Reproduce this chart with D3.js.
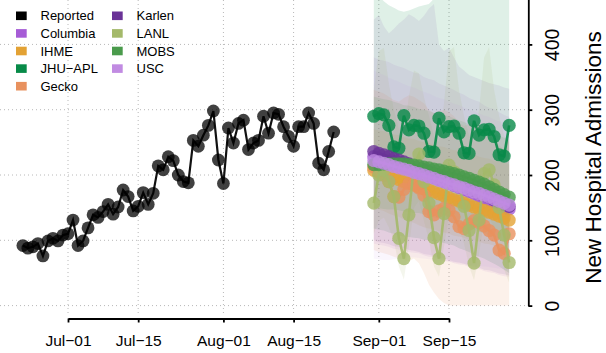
<!DOCTYPE html>
<html><head><meta charset="utf-8">
<script src="https://cdn.jsdelivr.net/npm/d3@7"></script>
<style>
html,body{margin:0;padding:0;background:#fff;}
svg{display:block;font-family:"Liberation Sans",Arial,sans-serif;}
</style></head>
<body>
<svg id="chart" width="606" height="353"></svg>
<script>
// ---------------- DATA ----------------
const reportedStart = "2021-06-22";
const reportedEnd = "2021-08-23";
const reported = [92,88,90,95,76,99,103,99,108,110,131,92,99,119,139,135,144,155,140,151,177,167,145,152,173,155,172,214,208,228,222,200,190,188,253,244,261,276,298,223,187,272,249,279,284,239,249,253,290,264,295,293,274,259,244,274,274,295,279,218,208,236,266];

const forecastStart = "2021-08-31";
const forecastEnd = "2021-09-27";

const models = ["Columbia","IHME","JHU-APL","Gecko","Karlen","LANL","MOBS","USC"];
const legendLabels = ["Reported","Columbia","IHME","JHU\u2212APL","Gecko","Karlen","LANL","MOBS","USC"];
const legendColors = ["#000000","#a65cd6","#e3a234","#078a48","#e8915e","#6a3397","#a4b96a","#4a9b4c","#c18be2"];
const bandOpacity = [0.09,0.11,0.13,0.13,0.09,0.12,0.13,0.08];

const columbia = [228,225,223,221,218,215,212,210,207,204,201,199,196,193,190,187,184,181,178,175,172,168,165,162,159,155,152,148];
const ihme     = [207,204,202,199,196,193,190,188,185,182,179,177,174,171,168,165,162,160,157,154,151,148,146,143,140,137,134,131];
const jhuapl   = [290,294,292,276,243,241,291,269,276,275,264,236,235,287,266,274,275,264,234,233,283,261,269,270,259,231,229,276];
const gecko    = [212,208,200,190,167,166,178,187,185,180,169,144,139,145,149,146,136,121,118,125,130,127,122,115,108,85,80,110];
const karlen   = [236,233,231,228,225,223,220,217,214,211,208,205,202,199,196,193,190,186,183,180,176,173,169,166,162,159,155,152];
const lanl     = [157,200,207,190,167,103,72,139,215,232,190,157,104,72,141,215,205,185,152,115,65,131,202,208,185,150,108,66];
const mobs     = [216,216,217,217,217,217,217,216,215,214,212,211,209,208,206,204,202,200,197,195,192,189,186,182,178,174,170,166];
const usc      = [222,220,218,216,213,211,209,207,204,202,200,197,195,192,190,187,185,182,180,177,174,172,169,166,163,160,157,154];

// uncertainty bands (lower / upper)
const columbiaLo = [95,93,92,90,87,86,85,82,81,80,77,75,74,71,69,68,65,63,62,59,57,56,53,51,50,47,45,44];
const columbiaHi = [380,377,375,373,369,366,364,360,357,355,350,347,345,340,337,334,330,326,323,318,315,312,307,303,301,296,292,289];
const ihmeLo     = [150,147,145,141,138,136,132,129,127,123,120,118,117,114,112,110,107,106,104,101,100,98,95,94,92,90,87,86];
const ihmeHi     = [270,268,267,264,262,261,258,256,255,252,250,249,246,244,243,240,238,237,234,232,231,228,226,225,222,220,219,216];
const jhuaplLo   = [118,116,115,112,110,107,106,105,104,103,101,100,99,98,96,94,92,88,85,82,78,75,72,68,64,60,55,50];
const jhuaplHi   = [478,474,466,460,456,452,450,452,455,458,460,462,470,495,505,510,515,520,520,525,525,525,530,530,530,530,530,530];
const geckoLo    = [85,82,80,78,75,72,70,68,72,65,50,32,20,10,4,0,0,0,0,0,0,0,0,0,0,0,0,0];
const geckoHi    = [330,328,325,320,315,312,318,322,320,315,310,300,295,298,300,296,290,280,275,278,280,276,270,262,255,245,240,255];
const karlenLo   = [100,97,96,94,91,90,88,85,84,82,79,78,76,73,72,70,67,66,64,61,60,58,55,54,52,49,48,46];
const karlenHi   = [438,445,428,417,424,432,438,446,442,436,444,455,462,400,390,395,380,366,360,353,350,347,344,341,339,337,334,332];
const lanlLo     = [110,130,135,120,100,60,40,90,150,160,130,100,60,44,90,140,135,120,95,60,39,80,130,135,120,90,55,35];
const lanlHi     = [330,390,395,340,300,270,260,320,360,356,320,290,260,250,310,390,396,330,290,260,250,300,380,396,330,290,260,250];
const mobsLo     = [150,149,148,147,147,146,144,144,142,142,140,138,135,134,132,130,127,125,122,120,117,113,111,108,105,102,99,96];
const mobsHi     = [320,318,316,315,312,310,307,306,304,301,300,298,295,294,292,290,287,284,281,278,275,272,269,266,263,260,257,254];
const uscLo      = [72,71,70,70,71,72,73,74,74,73,72,71,70,69,68,67,66,65,64,63,62,61,60,59,58,57,56,55];
const uscHi      = [360,356,353,349,346,343,339,336,334,330,327,325,321,318,316,312,309,307,303,300,298,294,291,289,285,282,280,276];

const xTickDates  = ["2021-07-01","2021-07-15","2021-08-01","2021-08-15","2021-09-01","2021-09-15"];
const xTickLabels = ["Jul\u221201","Jul\u221215","Aug\u221201","Aug\u221215","Sep\u221201","Sep\u221215"];
const yTicks = [0,100,200,300,400];
const yTitle = "New Hospital Admissions";

// ---------------- CHART ----------------
const svg = d3.select("#chart");
const parse = d3.utcParse("%Y-%m-%d");
const rDates = d3.utcDay.range(parse(reportedStart), d3.utcDay.offset(parse(reportedEnd),1));
const fDates = d3.utcDay.range(parse(forecastStart), d3.utcDay.offset(parse(forecastEnd),1));

const x = d3.scaleUtc().domain([parse("2021-07-01"), parse("2021-09-15")]).range([68, 449]);
const y = d3.scaleLinear().domain([0, 470]).range([305.6, -1.3]);

const series = {
  "Columbia": {v: columbia, lo: columbiaLo, hi: columbiaHi, c: legendColors[1]},
  "IHME":     {v: ihme, lo: ihmeLo, hi: ihmeHi, c: legendColors[2]},
  "JHU-APL":  {v: jhuapl, lo: jhuaplLo, hi: jhuaplHi, c: legendColors[3]},
  "Gecko":    {v: gecko, lo: geckoLo, hi: geckoHi, c: legendColors[4]},
  "Karlen":   {v: karlen, lo: karlenLo, hi: karlenHi, c: legendColors[5]},
  "LANL":     {v: lanl, lo: lanlLo, hi: lanlHi, c: legendColors[6]},
  "MOBS":     {v: mobs, lo: mobsLo, hi: mobsHi, c: legendColors[7]},
  "USC":      {v: usc, lo: uscLo, hi: uscHi, c: legendColors[8]}
};

// grid
const grid = svg.append("g").attr("stroke","#b8b8b8").attr("stroke-width",1).attr("stroke-dasharray","1,3");
yTicks.forEach(t => grid.append("line").attr("x1",0).attr("x2",526).attr("y1",y(t)).attr("y2",y(t)));
xTickDates.forEach(d => grid.append("line").attr("x1",x(parse(d))).attr("x2",x(parse(d))).attr("y1",0).attr("y2",314));

// bands
const area = d3.area().x((d,i)=>x(fDates[i])).y0(d=>y(d[0])).y1(d=>y(d[1]));
const bandG = svg.append("g");
models.forEach((m,k) => {
  const s = series[m];
  const pts = s.lo.map((l,i)=>[l, s.hi[i]]);
  bandG.append("path").attr("d", area(pts)).attr("fill", s.c).attr("fill-opacity", bandOpacity[k]);
});

// reported
const line = d3.line().x((d,i)=>x(rDates[i])).y(d=>y(d));
svg.append("path").attr("d", line(reported)).attr("fill","none").attr("stroke","#111").attr("stroke-width",2.2);
svg.append("g").selectAll("circle").data(reported).join("circle")
  .attr("cx",(d,i)=>x(rDates[i])).attr("cy",d=>y(d)).attr("r",6.4)
  .attr("fill","#000").attr("fill-opacity",0.75);

// forecasts
const fline = d3.line().x((d,i)=>x(fDates[i])).y(d=>y(d));
models.forEach(m => {
  const s = series[m];
  const g = svg.append("g");
  g.append("path").attr("d", fline(s.v)).attr("fill","none").attr("stroke", s.c).attr("stroke-width",2.6).attr("stroke-opacity",0.9);
  g.selectAll("circle").data(s.v).join("circle")
    .attr("cx",(d,i)=>x(fDates[i])).attr("cy",d=>y(d)).attr("r",6.6)
    .attr("fill", s.c).attr("fill-opacity",0.8);
});

// x axis
const xAxis = svg.append("g").attr("transform","translate(0,318.5)")
  .call(d3.axisBottom(x).tickValues(xTickDates.map(parse)).tickSize(4).tickSizeOuter(0)
        .tickFormat((d,i)=>xTickLabels[i]).tickPadding(12));
xAxis.select(".domain").attr("stroke","#000").attr("stroke-width",1.8);
xAxis.selectAll(".tick line").attr("stroke","#000").attr("stroke-width",1.8);
xAxis.selectAll("text").attr("font-size","15.5px").attr("fill","#000").attr("font-family","Liberation Sans, Arial, sans-serif");

// y axis (right)
const yAxis = svg.append("g").attr("transform","translate(528.3,0)")
  .call(d3.axisRight(y).tickValues(yTicks).tickSize(4).tickSizeOuter(0));
yAxis.select(".domain").attr("stroke","#000").attr("stroke-width",1.8);
yAxis.selectAll(".tick line").attr("stroke","#000").attr("stroke-width",1.8);
yAxis.selectAll("text").attr("x",null).attr("dy",null).attr("text-anchor","middle")
  .attr("transform","translate(23.4,0) rotate(-90)").attr("dy","0.36em")
  .attr("font-size","19.5px").attr("fill","#000").attr("font-family","Liberation Sans, Arial, sans-serif");

svg.append("text").attr("transform","translate(593,157.5) rotate(-90)").attr("text-anchor","middle")
  .attr("dy","0.36em").attr("font-size","22.5px").attr("fill","#000").text(yTitle);

// legend
const leg = svg.append("g").attr("font-size","13px");
legendLabels.forEach((lab,i) => {
  const col = i < 5 ? 0 : 1;
  const row = i < 5 ? i : i - 5;
  const cy = 15.8 + row * 17.6;
  const sx = col === 0 ? 16 : 112;
  leg.append("rect").attr("x", sx).attr("y", cy - 4.3).attr("width", 10.7).attr("height", 8.6).attr("fill", legendColors[i]);
  leg.append("text").attr("x", sx + 24.5).attr("y", cy).attr("dy","0.36em").attr("fill","#000").text(lab);
});
</script>
</body></html>
